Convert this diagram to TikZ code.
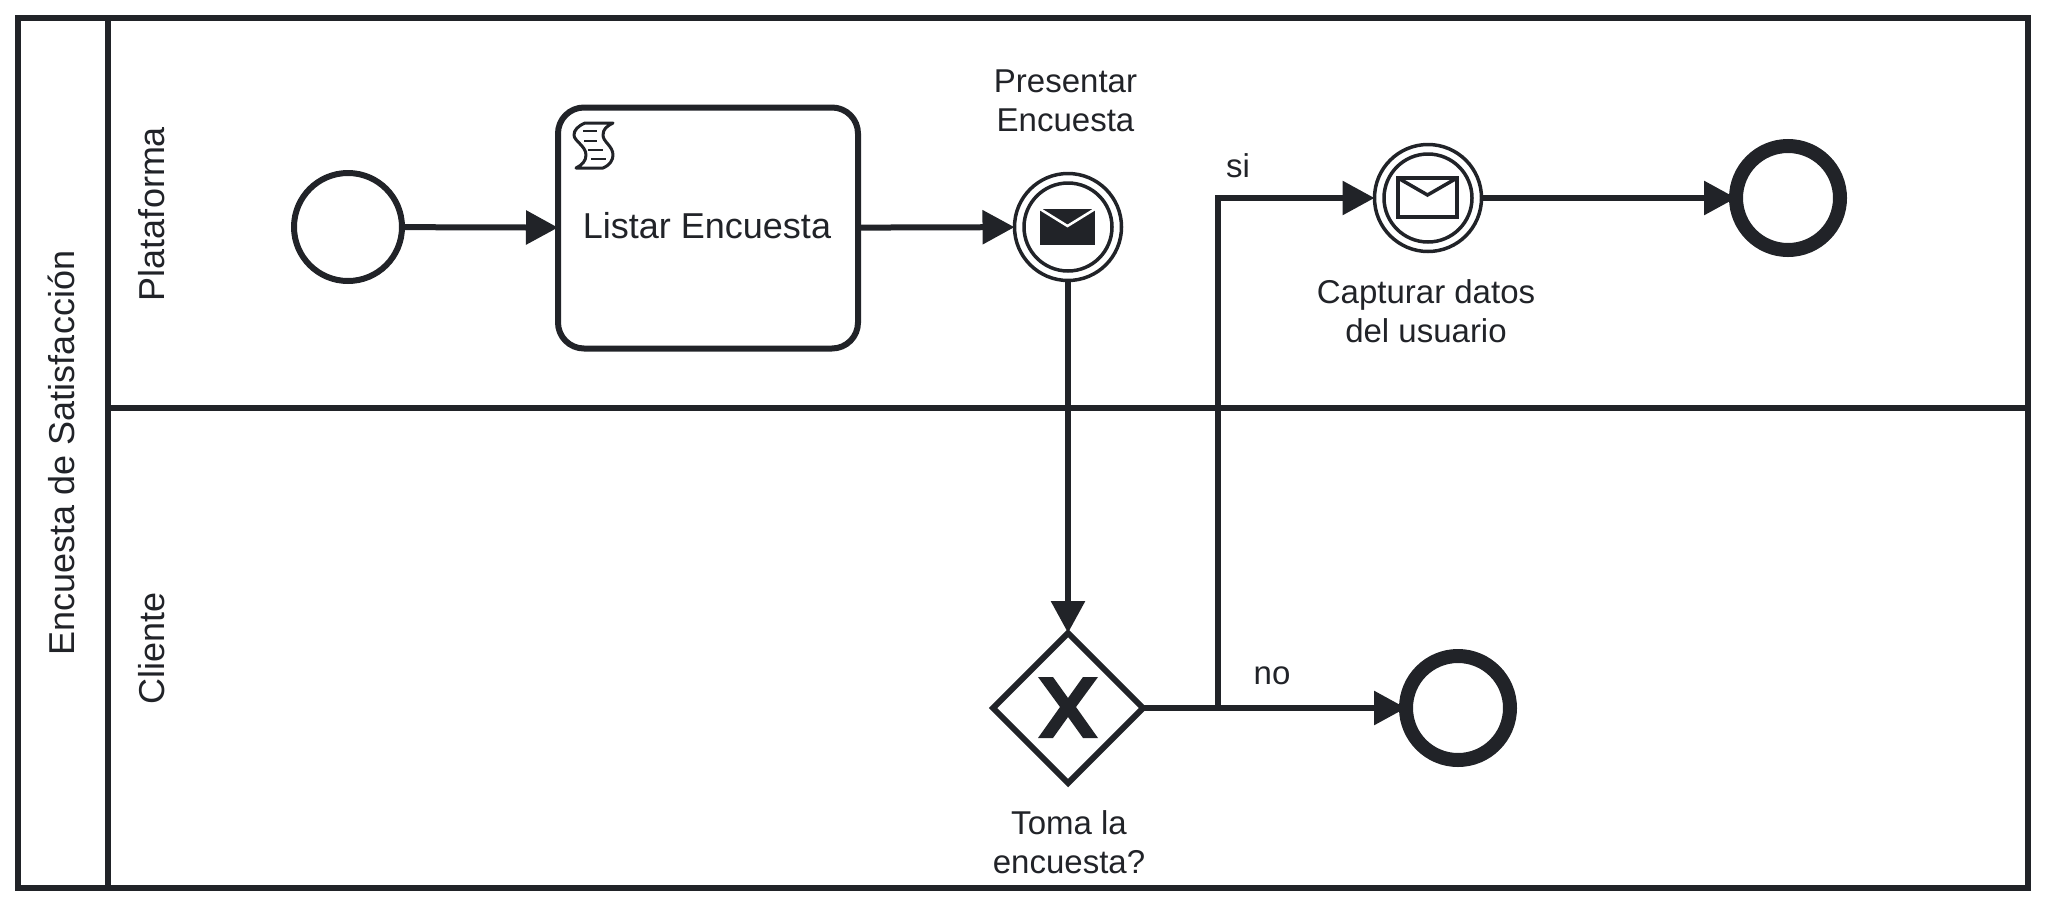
\documentclass[tikz,border=0pt]{standalone}
\usepackage{fontspec}
\setmainfont{Liberation Sans}
\usetikzlibrary{arrows.meta,shapes.geometric}
\definecolor{dialinecolor}{rgb}{0.129, 0.137, 0.157}
\newlength{\du}
\setlength{\du}{0.5pt}
\tikzset{
  lanebox/.style={draw=dialinecolor,line width=6\du,minimum width=#1,inner sep=0pt},
  flow/.style={draw=dialinecolor,line width=6\du,-{Triangle[length=16pt,width=16.5pt]}},
  event/.style={circle,draw=dialinecolor,fill=white,line width=6\du,minimum size=108\du,inner sep=0pt,outer sep=0pt},
  ringouter/.style={circle,draw=dialinecolor,fill=white,line width=3.5\du,minimum size=107\du,inner sep=0pt,outer sep=0pt},
  ringinner/.style={circle,draw=dialinecolor,line width=3.5\du,minimum size=88\du,inner sep=0pt},
  endevent/.style={circle,draw=dialinecolor,fill=white,line width=14\du,minimum size=104\du,inner sep=0pt,outer sep=0pt},
  taskbox/.style={rectangle,rounded corners=26\du,draw=dialinecolor,fill=white,line width=6\du,minimum width=300\du,minimum height=241\du,inner sep=0pt,outer sep=0pt},
  gatebox/.style={diamond,aspect=1,draw=dialinecolor,fill=white,line width=6\du,minimum size=150\du,inner sep=0pt,outer sep=0pt},
  biglabel/.style={text=dialinecolor,inner sep=0pt,font=\fontsize{18}{21}\selectfont},
  smalllabel/.style={text=dialinecolor,inner sep=0pt,align=center,font=\fontsize{16.5}{19.5}\selectfont},
}
\begin{document}
\begin{tikzpicture}[x=\du,y=-\du]
\useasboundingbox (0,0) rectangle (2046,906);
% pool and lanes
\node[lanebox=90\du,minimum height=870\du] (header) at (63,453) {};
\node[lanebox=1920\du,minimum height=390\du] (laneplat) at (1068,213) {};
\node[lanebox=1920\du,minimum height=480\du] (lanecli) at (1068,648) {};
\node[biglabel,rotate=90] (poolname) at (61,453) {Encuesta de Satisfacción};
\node[biglabel,rotate=90] (platname) at (152,214) {Plataforma};
\node[biglabel,rotate=90] (cliname) at (152,648) {Cliente};
% events and task
\node[event] (start) at (348,227) {};
\node[taskbox] (task) at (708,228) {};
\node[biglabel] (tasktext) at (707,226) {Listar Encuesta};
\node[ringouter] (send) at (1068,227) {};
\node[ringinner] (sendin) at (1068,227) {};
\node[ringouter] (catch) at (1428,198) {};
\node[ringinner] (catchin) at (1428,198) {};
\node[endevent] (endplat) at (1788,198) {};
\node[gatebox] (gate) at (1068,708) {};
\node[endevent] (endcli) at (1458,708) {};
\coordinate (split) at (1218,708);
% script icon
\draw[draw=dialinecolor,fill=white,line width=3\du,line join=round] (585,123) .. controls (578,126) and (574,130) .. (574,135) .. controls (574,141) and (586,146) .. (586,155) .. controls (586,161) and (582,165) .. (576,168) -- (603,168) .. controls (610,165) and (613,160) .. (613,155) .. controls (613,146) and (603,142) .. (603,135) .. controls (603,129) and (607,126) .. (613,123) -- cycle;
\draw[draw=dialinecolor,line width=2.5\du] (583,131) -- (597,131);
\draw[draw=dialinecolor,line width=2.5\du] (584,141) -- (597,141);
\draw[draw=dialinecolor,line width=2.5\du] (588,150) -- (603,150);
\draw[draw=dialinecolor,line width=2.5\du] (591,159) -- (606,159);
% envelopes
\fill[dialinecolor] (1040,209) rectangle (1095,245);
\draw[white,line width=2.5\du] (1040,209) -- (1067.5,226) -- (1095,209);
\draw[draw=dialinecolor,fill=white,line width=3.5\du] (1398,178) rectangle (1457,217);
\draw[draw=dialinecolor,line width=3.5\du] (1398,178) -- (1427.5,195) -- (1457,178);
% gateway cross
\fill[dialinecolor] (1038,677) -- (1053,677) -- (1068,698) -- (1083,677) -- (1098,677) -- (1076,707) -- (1098,738) -- (1083,738) -- (1068,717) -- (1053,738) -- (1038,738) -- (1060,707) -- cycle;
% flows
\draw[flow] (start) -- (task);
\draw[flow] (task) -- (send);
\draw[flow] (send) -- (gate);
\draw[flow] (gate) -- (endcli);
\draw[flow] (split) |- (catch);
\draw[flow] (catch) -- (endplat);
% labels
\node[smalllabel] (sendtext) at (1065.5,101) {Presentar\\Encuesta};
\node[smalllabel] (catchtext) at (1426,311) {Capturar datos\\del usuario};
\node[smalllabel] (gatetext) at (1069,842) {Toma la\\encuesta?};
\node[smalllabel] (yes) at (1238,166) {si};
\node[smalllabel] (no) at (1272,676) {no};
\end{tikzpicture}
\end{document}
